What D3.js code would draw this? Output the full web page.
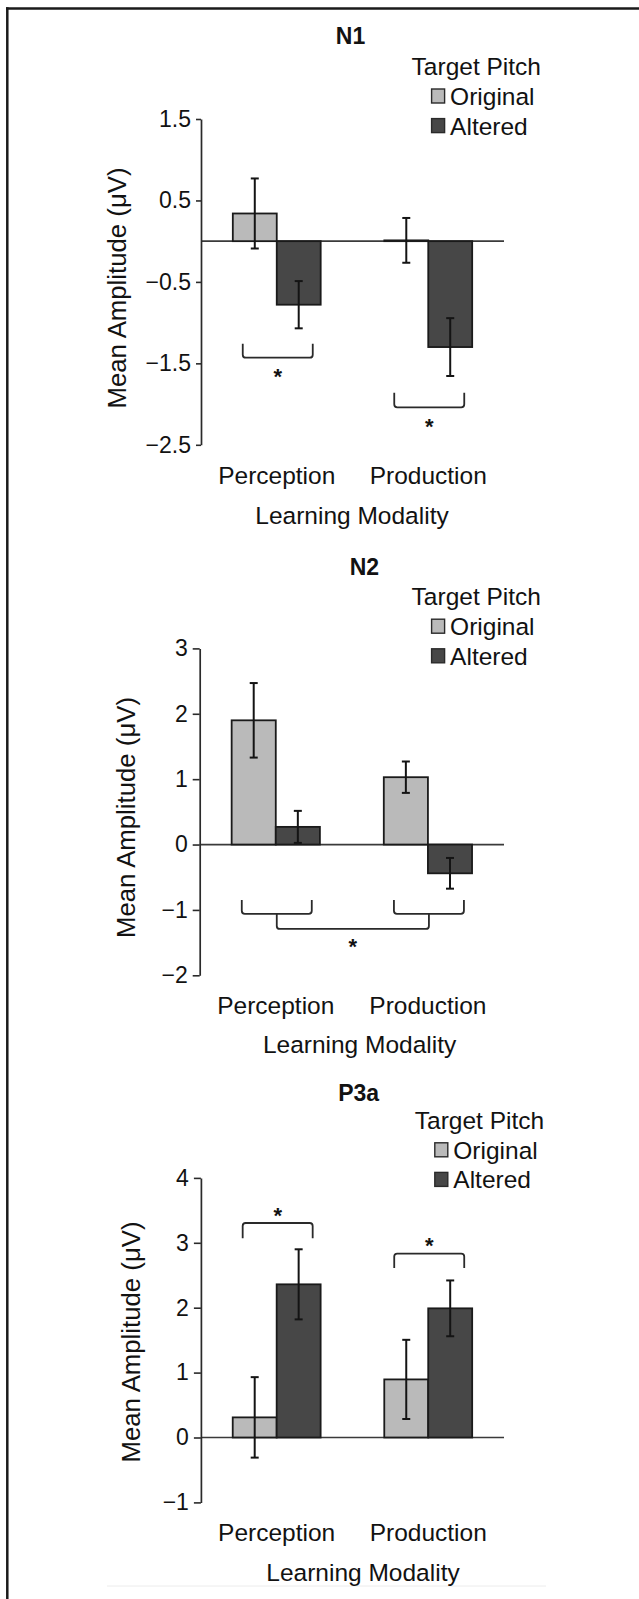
<!DOCTYPE html>
<html>
<head>
<meta charset="utf-8">
<script src="https://cdn.jsdelivr.net/npm/d3@7"></script>
<style>
  html, body { margin: 0; padding: 0; background: #fff; }
  svg { display: block; }
</style>
</head>
<body>
<svg id="chart" width="639" height="1599"></svg>
<script>
// ---------------- DATA ----------------
const categories = ["Perception", "Production"];
const series = ["Original", "Altered"];

const n1Original = [0.34, 0.01];
const n1Altered = [-0.78, -1.30];
const n1OriginalErr = [0.43, 0.275];
const n1AlteredErr = [0.29, 0.355];
const n1Ticks = [1.5, 0.5, -0.5, -1.5, -2.5];

const n2Original = [1.90, 1.03];
const n2Altered = [0.27, -0.44];
const n2OriginalErr = [0.57, 0.24];
const n2AlteredErr = [0.245, 0.235];
const n2Ticks = [3, 2, 1, 0, -1, -2];

const p3aOriginal = [0.31, 0.895];
const p3aAltered = [2.36, 1.99];
const p3aOriginalErr = [0.62, 0.61];
const p3aAlteredErr = [0.54, 0.43];
const p3aTicks = [4, 3, 2, 1, 0, -1];

// significance brackets (values in µV)
const n1Brackets = [
  { cats: ["Perception"], tip: -1.26, base: -1.43, star: -1.60 },
  { cats: ["Production"], tip: -1.86, base: -2.04, star: -2.21 }
];
const n2Brackets = [
  { cats: ["Perception"], tip: -0.85, base: -1.06 },
  { cats: ["Production"], tip: -0.85, base: -1.06 },
  { cats: ["Perception", "Production"], tip: -1.06, base: -1.29, star: -1.47 }
];
const p3aBrackets = [
  { cats: ["Perception"], tip: 3.07, base: 3.305, star: 3.50 },
  { cats: ["Production"], tip: 2.61, base: 2.834, star: 3.05 }
];

const titles = ["N1", "N2", "P3a"];
const legendTitle = "Target Pitch";
const xAxisTitle = "Learning Modality";
const yAxisTitle = "Mean Amplitude (\u03BCV)";

// ---------------- STYLE / LAYOUT ----------------
const FONT = "'Liberation Sans', Arial, Helvetica, sans-serif";
const colors = { Original: "#bababa", Altered: "#474747" };
const ink = "#121212";

const panels = [
  { title: titles[0], orig: n1Original, alt: n1Altered, origErr: n1OriginalErr, altErr: n1AlteredErr,
    ticks: n1Ticks, fmt: d3.format(".1f"), brackets: n1Brackets,
    titleX: 350.5, titleY: 44, legendX: 411.6, legendY: 75,
    axisX: 201, xEnd: 504, yTop: 119, yBot: 444.8, tickPad: 5,
    tickLabelY: 484, xTitleX: 352, xTitleY: 524, yLabelX: 126, yLabelY: 288 },
  { title: titles[1], orig: n2Original, alt: n2Altered, origErr: n2OriginalErr, altErr: n2AlteredErr,
    ticks: n2Ticks, fmt: d3.format("d"), brackets: n2Brackets,
    titleX: 364.4, titleY: 575, legendX: 411.6, legendY: 605.2,
    axisX: 199.7, xEnd: 504, yTop: 648.4, yBot: 975.3, tickPad: 7,
    tickLabelY: 1013.5, xTitleX: 359.6, xTitleY: 1053, yLabelX: 135.3, yLabelY: 817.5 },
  { title: titles[2], orig: p3aOriginal, alt: p3aAltered, origErr: p3aOriginalErr, altErr: p3aAlteredErr,
    ticks: p3aTicks, fmt: d3.format("d"), brackets: p3aBrackets,
    titleX: 358.6, titleY: 1101.3, legendX: 414.8, legendY: 1128.8,
    axisX: 200.9, xEnd: 504, yTop: 1177.9, yBot: 1502.4, tickPad: 7,
    tickLabelY: 1541.2, xTitleX: 363, xTitleY: 1580.8, yLabelX: 139.5, yLabelY: 1342 }
];

const svg = d3.select("#chart");

// frame
svg.append("line").attr("x1", 6).attr("x2", 639).attr("y1", 8.5).attr("y2", 8.5)
  .attr("stroke", "#1a1a1a").attr("stroke-width", 2.5);
svg.append("line").attr("x1", 7.3).attr("x2", 7.3).attr("y1", 7.3).attr("y2", 1599)
  .attr("stroke", "#1a1a1a").attr("stroke-width", 2.5);
svg.append("line").attr("x1", 107).attr("x2", 546).attr("y1", 1586).attr("y2", 1586)
  .attr("stroke", "#ececec").attr("stroke-width", 1);

panels.forEach(p => {
  const g = svg.append("g");
  const y = d3.scaleLinear().domain([p.ticks[p.ticks.length - 1], p.ticks[0]]).range([p.yBot, p.yTop]);
  const x0 = d3.scaleBand().domain(categories).range([p.axisX, p.xEnd]).paddingInner(0.42).paddingOuter(0.21);
  const x1 = d3.scaleBand().domain(series).range([0, x0.bandwidth()]);

  // title
  g.append("text").attr("x", p.titleX).attr("y", p.titleY).attr("text-anchor", "middle")
    .attr("font-family", FONT).attr("font-weight", "bold").attr("font-size", 23).attr("fill", ink)
    .text(p.title);

  // legend
  g.append("text").attr("x", p.legendX).attr("y", p.legendY)
    .attr("font-family", FONT).attr("font-size", 24.5).attr("fill", ink).text(legendTitle);
  series.forEach((s, i) => {
    g.append("rect").attr("x", p.legendX + 20).attr("y", p.legendY + 14 + i * 29.6)
      .attr("width", 13).attr("height", 14).attr("fill", colors[s])
      .attr("stroke", "#2a2a2a").attr("stroke-width", 1.4);
    g.append("text").attr("x", p.legendX + 38.5).attr("y", p.legendY + 30 + i * 29.6)
      .attr("font-family", FONT).attr("font-size", 24.5).attr("fill", ink).text(s);
  });

  // zero line
  g.append("line").attr("x1", p.axisX).attr("x2", p.xEnd).attr("y1", y(0)).attr("y2", y(0))
    .attr("stroke", "#3a3a3a").attr("stroke-width", 1.7);

  // bars
  const rows = [];
  categories.forEach((c, ci) => {
    rows.push({ cat: c, s: "Original", v: p.orig[ci], e: p.origErr[ci] });
    rows.push({ cat: c, s: "Altered", v: p.alt[ci], e: p.altErr[ci] });
  });
  g.selectAll("rect.bar").data(rows).enter().append("rect").attr("class", "bar")
    .attr("x", d => x0(d.cat) + x1(d.s))
    .attr("y", d => y(Math.max(0, d.v)))
    .attr("width", x1.bandwidth())
    .attr("height", d => Math.abs(y(d.v) - y(0)))
    .attr("fill", d => colors[d.s])
    .attr("stroke", "#1a1a1a").attr("stroke-width", 1.8);

  // error bars
  const cap = 4;
  const eb = g.selectAll("g.eb").data(rows).enter().append("g").attr("class", "eb")
    .attr("stroke", "#141414").attr("stroke-width", 2);
  const cx = d => x0(d.cat) + x1(d.s) + x1.bandwidth() / 2;
  eb.append("line").attr("x1", cx).attr("x2", cx)
    .attr("y1", d => y(d.v + d.e)).attr("y2", d => y(d.v - d.e));
  eb.append("line").attr("x1", d => cx(d) - cap).attr("x2", d => cx(d) + cap)
    .attr("y1", d => y(d.v + d.e)).attr("y2", d => y(d.v + d.e));
  eb.append("line").attr("x1", d => cx(d) - cap).attr("x2", d => cx(d) + cap)
    .attr("y1", d => y(d.v - d.e)).attr("y2", d => y(d.v - d.e));

  // y axis
  const ax = g.append("g").attr("transform", `translate(${p.axisX},0)`)
    .call(d3.axisLeft(y).tickValues(p.ticks).tickFormat(p.fmt).tickSize(p.tickPad).tickSizeOuter(0).tickPadding(5));
  ax.select(".domain").attr("stroke", "#2a2a2a").attr("stroke-width", 1.7);
  ax.selectAll(".tick line").attr("stroke", "#2a2a2a").attr("stroke-width", 1.6);
  ax.selectAll(".tick text").attr("font-family", FONT).attr("font-size", 23).attr("fill", ink);

  // category labels
  g.selectAll("text.cat").data(categories).enter().append("text").attr("class", "cat")
    .attr("x", d => x0(d) + x0.bandwidth() / 2).attr("y", p.tickLabelY)
    .attr("text-anchor", "middle").attr("font-family", FONT).attr("font-size", 24.5).attr("fill", ink)
    .text(d => d);

  // x title
  g.append("text").attr("x", p.xTitleX).attr("y", p.xTitleY).attr("text-anchor", "middle")
    .attr("font-family", FONT).attr("font-size", 24.5).attr("fill", ink).text(xAxisTitle);

  // y title
  g.append("text").attr("transform", `translate(${p.yLabelX},${p.yLabelY}) rotate(-90)`)
    .attr("text-anchor", "middle").attr("font-family", FONT).attr("font-size", 25).attr("fill", ink)
    .attr("textLength", 241).attr("lengthAdjust", "spacingAndGlyphs")
    .text(yAxisTitle);

  // brackets
  const half = 35;
  const mid = c => x0(c) + x0.bandwidth() / 2 + 1;
  p.brackets.forEach(b => {
    let xa, xb;
    if (b.cats.length === 1) { xa = mid(b.cats[0]) - half; xb = mid(b.cats[0]) + half; }
    else { xa = mid(b.cats[0]); xb = mid(b.cats[1]); }
    const yt = y(b.tip), yb = y(b.base);
    const dir = Math.sign(yt - yb);
    const r = 3;
    const path = `M${xa},${yt} L${xa},${yb + dir * r} Q${xa},${yb} ${xa + r},${yb} L${xb - r},${yb} Q${xb},${yb} ${xb},${yb + dir * r} L${xb},${yt}`;
    g.append("path").attr("d", path).attr("fill", "none").attr("stroke", "#2a2a2a").attr("stroke-width", 1.8);
    if (b.star !== undefined) {
      g.append("text").attr("x", (xa + xb) / 2).attr("y", y(b.star) + 13)
        .attr("text-anchor", "middle").attr("font-family", FONT).attr("font-weight", "bold")
        .attr("font-size", 22).attr("fill", ink)
        .text("*");
    }
  });
});
</script>
</body>
</html>
